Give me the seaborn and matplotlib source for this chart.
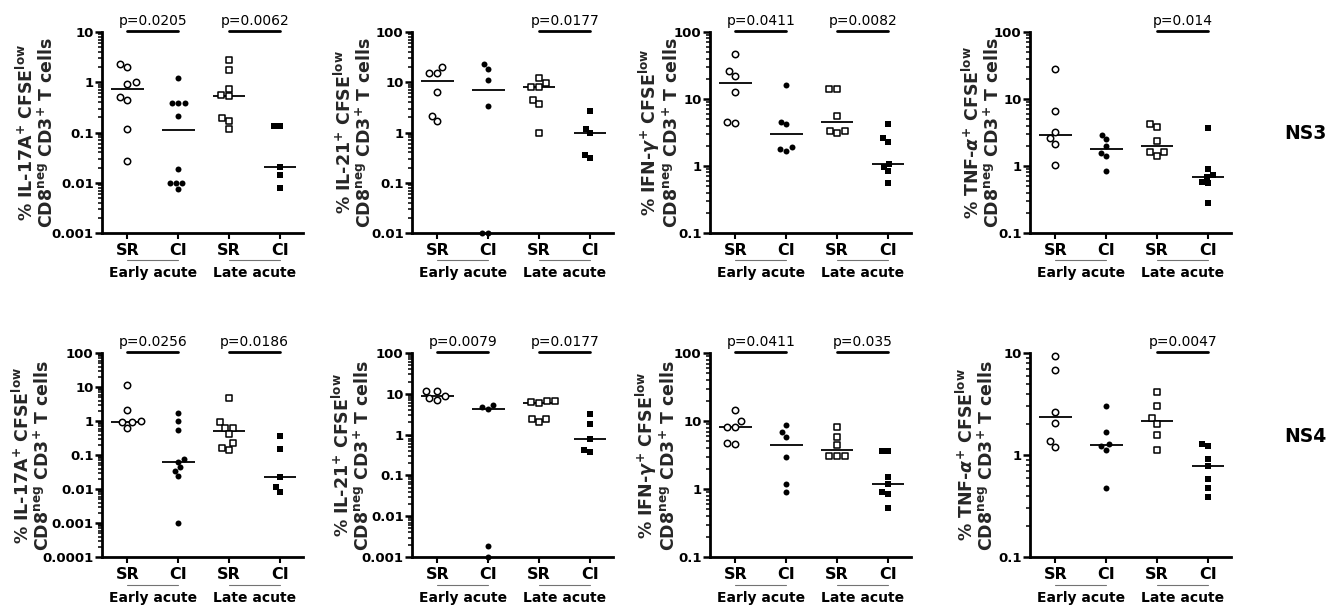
import matplotlib
matplotlib.use('Agg')
import matplotlib.pyplot as plt
import matplotlib.ticker as mticker
import matplotlib.transforms as mtransforms
import seaborn as sns
import numpy as np
import pandas as pd

sns.set_style("ticks")
plt.rcParams['font.family'] = ['DejaVu Sans']
plt.rcParams['font.weight'] = 'bold'
plt.rcParams['mathtext.default'] = 'regular'
plt.rcParams['axes.edgecolor'] = 'black'
plt.rcParams['xtick.color'] = 'black'
plt.rcParams['ytick.color'] = 'black'
plt.rcParams['text.color'] = 'black'

groups = ["SR early", "CI early", "SR late", "CI late"]
tick_labels = ["SR", "CI", "SR", "CI"]
phases = ["Early acute", "Late acute"]
rows = ["NS3", "NS4"]

# values per group, in the order of `groups` (% of CD8neg CD3+ T cells)
ns3_il17a = [[2.35, 2.02, 1.02, 0.94, 0.51, 0.44, 0.12, 0.027],
             [1.24, 0.39, 0.39, 0.39, 0.21, 0.0186, 0.0098, 0.0098, 0.0098, 0.0076],
             [2.74, 1.79, 0.75, 0.55, 0.53, 0.19, 0.17, 0.116],
             [0.135, 0.135, 0.0204, 0.0144, 0.0078]]
ns3_il21 = [[20.3, 15.5, 15.0, 6.3, 2.15, 1.66],
            [22.6, 18.3, 10.9, 3.44, 0.01, 0.01],
            [12.3, 9.5, 8.2, 8.2, 4.46, 3.66, 0.98],
            [2.74, 1.19, 0.96, 0.354, 0.313]]
ns3_ifng = [[47.6, 26.0, 22.2, 12.8, 4.6, 4.35],
            [16.1, 4.6, 4.2, 1.89, 1.8, 1.69],
            [14.1, 14.1, 5.6, 3.35, 3.35, 3.09],
            [4.2, 2.6, 2.32, 1.08, 0.955, 0.83, 0.56]]
ns3_tnfa = [[28.5, 6.6, 3.18, 2.59, 2.13, 1.04],
            [2.9, 2.53, 1.99, 1.55, 1.43, 0.83],
            [4.2, 3.86, 2.39, 1.64, 1.62, 1.43],
            [3.65, 0.895, 0.74, 0.68, 0.574, 0.555, 0.279]]
ns4_il17a = [[11.3, 2.09, 0.98, 0.95, 0.92, 0.62],
             [1.68, 1.0, 0.55, 0.0755, 0.063, 0.043, 0.0344, 0.0245, 0.001],
             [4.82, 0.935, 0.64, 0.64, 0.41, 0.22, 0.166, 0.14],
             [0.364, 0.155, 0.022, 0.0112, 0.0084]]
ns4_il21 = [[11.6, 11.5, 8.6, 7.8, 6.9],
            [5.37, 4.7, 4.35, 0.0019, 0.001],
            [6.8, 6.6, 6.4, 6.1, 2.4, 2.4, 2.0],
            [3.2, 1.83, 0.77, 0.43, 0.38]]
ns4_ifng = [[14.7, 9.9, 8.07, 8.07, 4.7, 4.6],
            [8.7, 6.8, 5.8, 2.96, 1.2, 0.9],
            [8.07, 5.8, 4.44, 3.1, 3.1, 3.1],
            [3.58, 3.58, 1.5, 1.2, 0.89, 0.85, 0.53]]
ns4_tnfa = [[9.3, 6.77, 2.62, 2.06, 1.38, 1.2],
            [3.0, 1.67, 1.28, 1.22, 1.13, 0.48],
            [4.12, 3.05, 2.3, 2.01, 1.58, 1.13],
            [1.29, 1.22, 0.92, 0.774, 0.58, 0.48, 0.387]]

# p-values for (early SR vs CI, late SR vs CI)
ns3_pvals = [("p=0.0205", "p=0.0062"), (None, "p=0.0177"),
             ("p=0.0411", "p=0.0082"), (None, "p=0.014")]
ns4_pvals = [("p=0.0256", "p=0.0186"), ("p=0.0079", "p=0.0177"),
             ("p=0.0411", "p=0.035"), (None, "p=0.0047")]

ylims = [[(1e-3, 10), (1e-2, 100), (0.1, 100), (0.1, 100)],
         [(1e-4, 100), (1e-3, 100), (0.1, 100), (0.1, 10)]]

tail = "\nCD8$^{neg}$ CD3$^{+}$ T cells"
ylabels = ["% IL-17A$^{+}$ CFSE$^{low}$" + tail,
           "% IL-21$^{+}$ CFSE$^{low}$" + tail,
           "% IFN-$\\mathit{\\gamma}^{+}$ CFSE$^{low}$" + tail,
           "% TNF-$\\mathit{\\alpha}^{+}$ CFSE$^{low}$" + tail]

# layout (pixels of a 1337x609 canvas)
W, H = 1337, 609
col_left = [102, 412, 710, 1030]
row_top = [32, 353]
row_bottom = [233, 557]
ax_w = 201
label_x = [[-0.224, -0.184, -0.139, -0.134],
           [-0.245, -0.194, -0.154, -0.164]]

styles = [dict(marker='o', color='white', edgecolor='black', linewidth=1.1, size=4.6),
          dict(marker='o', color='black', edgecolor='black', linewidth=0, size=4.3),
          dict(marker='s', color='white', edgecolor='black', linewidth=1.1, size=4.3),
          dict(marker='s', color='black', edgecolor='black', linewidth=0, size=4.3)]


def draw_panel(ax, values, ylim, ylabel, pvals, lx):
    ax.set_yscale('log')
    df = pd.DataFrame({'group': np.repeat(groups, [len(v) for v in values]),
                       'value': np.concatenate(values)})
    for g, st in zip(groups, styles):
        sns.swarmplot(data=df[df['group'] == g], x='group', y='value', order=groups,
                      ax=ax, clip_on=False, zorder=3, **st)
    for i, v in enumerate(values):
        ax.hlines(np.median(v), i - 0.32, i + 0.32, color='black', lw=1.3, zorder=2)

    ax.set_ylim(*ylim)
    ax.set_xlim(-0.5, 3.45)
    ax.yaxis.set_major_locator(mticker.LogLocator(base=10, numticks=20))
    ax.yaxis.set_minor_locator(mticker.LogLocator(base=10, subs=np.arange(2, 10), numticks=100))
    ax.yaxis.set_minor_formatter(mticker.NullFormatter())
    ax.yaxis.set_major_formatter(mticker.FuncFormatter(lambda v, p: f"{v:g}"))
    ax.set_xticks(range(4))
    ax.set_xticklabels(tick_labels)

    sns.despine(ax=ax)
    for s in ['left', 'bottom']:
        ax.spines[s].set_linewidth(2)
    ax.tick_params(axis='y', which='major', length=5, width=1.8, labelsize=9.5, pad=1)
    ax.tick_params(axis='y', which='minor', length=3, width=1.1)
    ax.tick_params(axis='x', length=4, width=1.5, labelsize=11.5, pad=3)

    ax.set_xlabel('')
    ax.set_ylabel(ylabel, fontsize=12.5, fontweight='bold', linespacing=1.05)
    ax.yaxis.set_label_coords(lx, 0.5)

    trans = mtransforms.blended_transform_factory(ax.transData, ax.transAxes)
    for k, phase in enumerate(phases):
        x0, x1 = 2 * k, 2 * k + 1
        ax.plot([x0, x1], [-0.135, -0.135], transform=trans, color='0.45', lw=0.8, clip_on=False)
        ax.text((x0 + x1) / 2, -0.2, phase, transform=trans, ha='center', va='center', fontsize=10)
        if pvals[k]:
            ax.plot([x0, x1], [1.005, 1.005], transform=trans, color='black', lw=2, clip_on=False)
            ax.text((x0 + x1) / 2, 1.02, pvals[k], transform=trans, ha='center', va='bottom',
                    fontsize=10, fontweight='normal')


fig = plt.figure(figsize=(W / 100, H / 100), dpi=100)
panels = [[ns3_il17a, ns3_il21, ns3_ifng, ns3_tnfa],
          [ns4_il17a, ns4_il21, ns4_ifng, ns4_tnfa]]
pvals_all = [ns3_pvals, ns4_pvals]

for r in range(2):
    for c in range(4):
        top, bot = row_top[r], row_bottom[r]
        ax = fig.add_axes([col_left[c] / W, 1 - bot / H, ax_w / W, (bot - top) / H])
        draw_panel(ax, panels[r][c], ylims[r][c], ylabels[c], pvals_all[r][c], label_x[r][c])
    fig.text(1305 / W, 1 - [133, 437][r] / H, rows[r], ha='center', va='center', fontsize=13.5)

fig.savefig('out.png', dpi=100)
